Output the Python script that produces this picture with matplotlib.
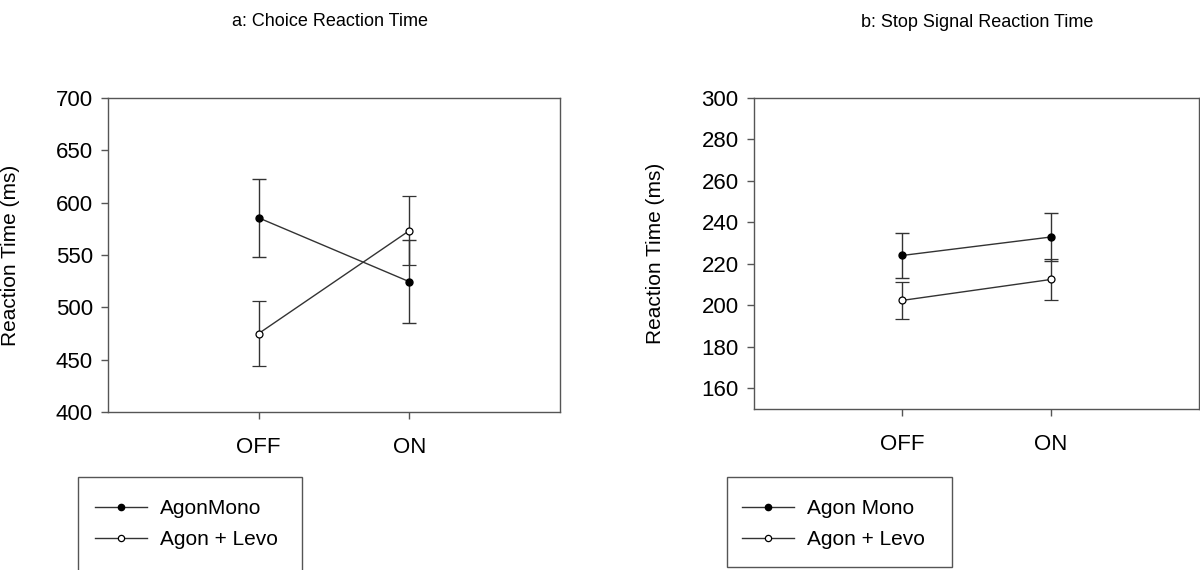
import matplotlib.pyplot as plt
from matplotlib.patches import Rectangle

plt.rcParams['font.family'] = ['Liberation Sans', 'DejaVu Sans']

# conditions
conditions = ['OFF', 'ON']

# a: choice reaction time (ms)
choice_mono = [585.5, 524.5]
choice_mono_err = [37.0, 39.5]
choice_levo = [475.0, 573.3]
choice_levo_err = [31.0, 33.0]

# b: stop signal reaction time (ms)
ssrt_mono = [224.0, 232.9]
ssrt_mono_err = [10.7, 11.8]
ssrt_levo = [202.3, 212.4]
ssrt_levo_err = [8.9, 9.8]

line_col = '#333333'
spine_col = '#555555'

fig = plt.figure(figsize=(12, 5.7), dpi=100)
ax1 = fig.add_axes([0.09, 0.2772, 0.3767, 0.5508])
ax2 = fig.add_axes([0.6283, 0.283, 0.3712, 0.545])


def draw_panel(ax, mono, mono_err, levo, levo_err, ylim, yticks, label_mono):
    x = list(range(len(conditions)))
    ax.errorbar(x, mono, yerr=mono_err, color=line_col, lw=1, marker='o',
                ms=5, mfc='black', mec='black', capsize=5, elinewidth=1,
                capthick=1, ecolor=line_col, label=label_mono, zorder=3)
    ax.errorbar(x, levo, yerr=levo_err, color=line_col, lw=1, marker='o',
                ms=5, mfc='white', mec='black', mew=0.9, capsize=5,
                elinewidth=1, capthick=1, ecolor=line_col,
                label='Agon + Levo', zorder=3)
    ax.set_xlim(-1, 2)
    ax.set_ylim(*ylim)
    ax.set_yticks(yticks)
    ax.set_xticks(x)
    ax.set_xticklabels(conditions)
    for s in ax.spines.values():
        s.set_color(spine_col)
        s.set_linewidth(1)
    ax.tick_params(axis='y', direction='out', length=5, width=1,
                   color=spine_col, labelsize=16, pad=6)
    ax.tick_params(axis='x', direction='out', length=5, width=1,
                   color=spine_col, labelsize=16, pad=13)
    ax.set_ylabel('Reaction Time (ms)', fontsize=15)


draw_panel(ax1, choice_mono, choice_mono_err, choice_levo, choice_levo_err,
           (400, 700), range(400, 701, 50), 'AgonMono')
ax1.yaxis.set_label_coords(-0.195, 0.5)

draw_panel(ax2, ssrt_mono, ssrt_mono_err, ssrt_levo, ssrt_levo_err,
           (150, 300), range(160, 301, 20), 'Agon Mono')
ax2.yaxis.set_label_coords(-0.2, 0.5)

fig.text(0.275, 0.962, 'a: Choice Reaction Time', ha='center', va='center',
         fontsize=13)
fig.text(0.814, 0.96, 'b: Stop Signal Reaction Time', ha='center',
         va='center', fontsize=13)

# legend boxes
fig.patches.append(Rectangle((78 / 1200, -0.05), 224 / 1200, 0.05 + 93 / 570,
                             transform=fig.transFigure, fill=False,
                             ec=spine_col, lw=1))
fig.patches.append(Rectangle((727 / 1200, 3 / 570), 225 / 1200, 90 / 570,
                             transform=fig.transFigure, fill=False,
                             ec=spine_col, lw=1))

for ax, x0 in [(ax1, 95 / 1200), (ax2, 742 / 1200)]:
    handles, labels = ax.get_legend_handles_labels()
    handles = [h[0] for h in handles]
    leg = ax.legend(handles, labels, loc='center left',
                    bbox_to_anchor=(x0, 46 / 570),
                    bbox_transform=fig.transFigure, frameon=False,
                    fontsize=15, handlelength=2.5, handletextpad=0.6,
                    labelspacing=0.58, borderaxespad=0, borderpad=0)
    for h in leg.legend_handles:
        h.set_markersize(4.5)

fig.savefig('out.png', dpi=100)
